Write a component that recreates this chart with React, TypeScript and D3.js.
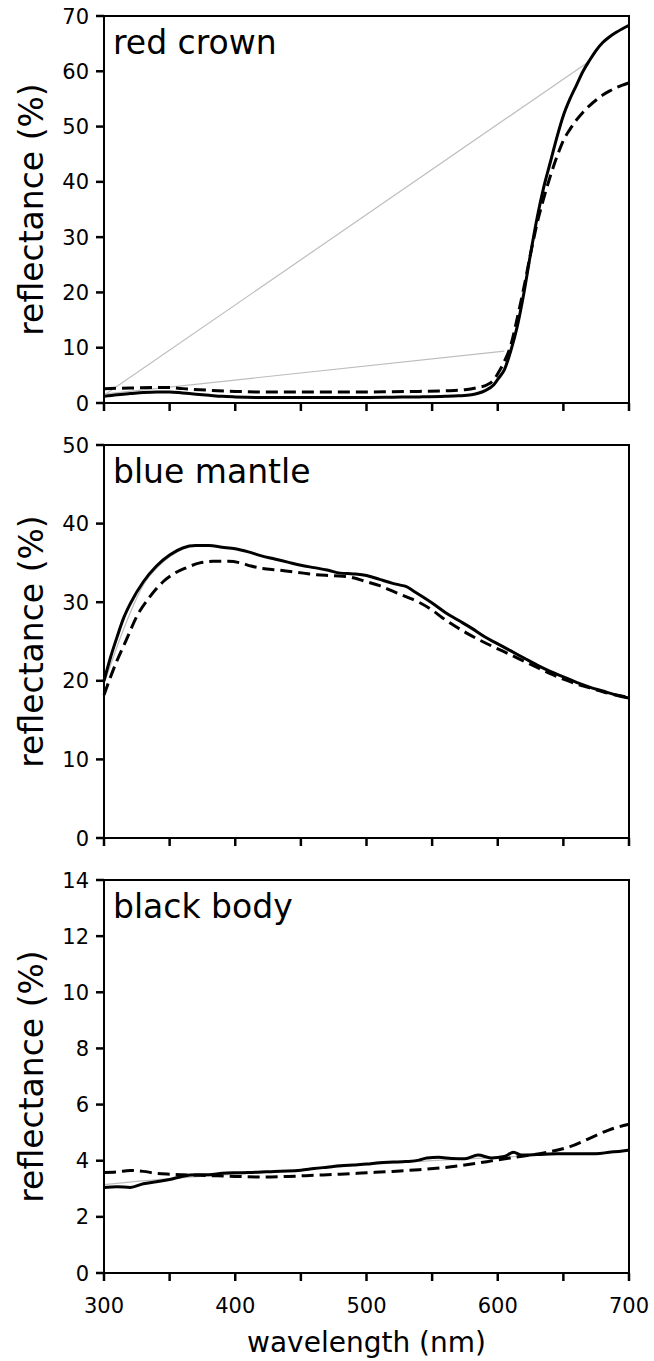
import React from "react";
import * as d3 from "d3";

type Pt = [number, number];

const xTicks = [300, 350, 400, 450, 500, 550, 600, 650, 700];
const xLabels = [300, 400, 500, 600, 700];

const redSolid: Pt[] = [
  [300, 1.2], [310, 1.5], [320, 1.7], [330, 1.9], [340, 2.0], [350, 2.0], [360, 1.8], [370, 1.6],
  [380, 1.4], [390, 1.2], [400, 1.1], [420, 1.0], [440, 1.0], [460, 1.0], [480, 1.0], [500, 1.0],
  [520, 1.05], [540, 1.1], [560, 1.2], [570, 1.3], [580, 1.5], [590, 2.2], [597, 3.3], [601, 4.6],
  [605, 6], [610, 9.5], [615, 14], [620, 20], [625, 27], [630, 33.5], [635, 39], [640, 43.5],
  [645, 48], [650, 52], [655, 55], [660, 57.5], [665, 60], [670, 62], [675, 63.8], [680, 65.2],
  [685, 66.2], [690, 67], [695, 67.7], [700, 68.3],
];
const redDashed: Pt[] = [
  [300, 2.6], [320, 2.7], [340, 2.8], [350, 2.8], [360, 2.6], [380, 2.3], [400, 2.1], [420, 2.0],
  [450, 2.0], [500, 2.0], [520, 2.05], [540, 2.1], [560, 2.2], [575, 2.4], [585, 2.8], [592, 3.3],
  [597, 4.2], [600, 5.3], [605, 7.5], [610, 10.5], [615, 15.5], [620, 21], [625, 27], [630, 32.5],
  [635, 37], [640, 41], [645, 44.5], [650, 47.5], [655, 49.5], [660, 51.2], [665, 52.6], [670, 53.8],
  [675, 54.8], [680, 55.7], [685, 56.4], [690, 57], [695, 57.5], [700, 57.9],
];
const redGrayA: Pt[] = [[300, 1.4], [669, 61.7]];
const redGrayB: Pt[] = [[300, 1.6], [605, 9.4]];

const blueSolid: Pt[] = [
  [300, 20], [305, 23], [310, 25.6], [315, 28], [320, 29.8], [330, 32.6], [340, 34.6], [350, 36],
  [360, 36.9], [370, 37.2], [380, 37.2], [390, 37.0], [400, 36.8], [410, 36.4], [420, 35.9],
  [430, 35.5], [440, 35.1], [450, 34.7], [460, 34.4], [470, 34.1], [480, 33.7], [490, 33.6],
  [500, 33.4], [510, 32.9], [520, 32.4], [525, 32.2], [530, 32.0], [536, 31.4], [550, 29.9],
  [560, 28.7], [570, 27.7], [580, 26.7], [590, 25.6], [600, 24.7], [610, 23.8], [620, 22.9],
  [630, 22.0], [640, 21.2], [650, 20.5], [660, 19.8], [670, 19.2], [680, 18.7], [690, 18.2],
  [700, 17.8],
];
const blueDashed: Pt[] = [
  [300, 18.2], [305, 20.5], [310, 22.6], [317, 25.2], [325, 28.2], [335, 30.7], [345, 32.6],
  [353, 33.6], [363, 34.4], [373, 35.0], [383, 35.2], [395, 35.2], [404, 35.0], [412, 34.6],
  [421, 34.3], [432, 34.1], [442, 33.9], [452, 33.7], [462, 33.5], [472, 33.4], [482, 33.3],
  [490, 33.1], [500, 32.6], [510, 32.1], [520, 31.4], [530, 30.7], [541, 29.9], [550, 29.0],
  [558, 28.0], [567, 27.0], [576, 26.1], [586, 25.2], [597, 24.3], [610, 23.3], [620, 22.5],
  [630, 21.7], [640, 20.9], [650, 20.2], [660, 19.6], [670, 19.1], [680, 18.6], [690, 18.2],
  [700, 17.9],
];
const blueGray: Pt[] = [[300, 19.6], [315, 26.6], [330, 32.2], [345, 35.1], [360, 36.8]];

const blackSolid: Pt[] = [
  [300, 3.05], [310, 3.07], [320, 3.05], [330, 3.18], [340, 3.25], [350, 3.33], [360, 3.45],
  [370, 3.5], [380, 3.5], [390, 3.55], [400, 3.57], [410, 3.58], [420, 3.6], [430, 3.62],
  [440, 3.63], [450, 3.66], [460, 3.72], [470, 3.77], [480, 3.82], [490, 3.85], [500, 3.88],
  [510, 3.93], [520, 3.95], [530, 3.97], [540, 4.02], [546, 4.1], [555, 4.12], [565, 4.08],
  [575, 4.07], [585, 4.2], [595, 4.1], [605, 4.15], [612, 4.3], [618, 4.2], [630, 4.22],
  [645, 4.25], [660, 4.25], [675, 4.25], [685, 4.3], [695, 4.35], [700, 4.38],
];
const blackDashed: Pt[] = [
  [300, 3.58], [310, 3.6], [320, 3.65], [330, 3.62], [340, 3.55], [350, 3.52], [360, 3.5],
  [380, 3.47], [400, 3.44], [420, 3.42], [440, 3.44], [460, 3.48], [480, 3.52], [500, 3.57],
  [520, 3.62], [540, 3.68], [560, 3.76], [580, 3.88], [600, 4.03], [620, 4.17], [640, 4.32],
  [655, 4.5], [670, 4.8], [685, 5.1], [700, 5.3],
];
const blackGray: Pt[] = [
  [300, 3.15], [350, 3.36], [400, 3.52], [450, 3.66], [500, 3.86], [550, 4.0], [600, 4.12],
  [650, 4.23], [700, 4.34],
];

const redTicks = [0, 10, 20, 30, 40, 50, 60, 70];
const blueTicks = [0, 10, 20, 30, 40, 50];
const blackTicks = [0, 2, 4, 6, 8, 10, 12, 14];

const panels = [
  { name: "red crown", top: 16, bottom: 403, max: 70, ticks: redTicks, solid: redSolid, dashed: redDashed, grays: [redGrayA, redGrayB] },
  { name: "blue mantle", top: 445, bottom: 838, max: 50, ticks: blueTicks, solid: blueSolid, dashed: blueDashed, grays: [blueGray] },
  { name: "black body", top: 880, bottom: 1273, max: 14, ticks: blackTicks, solid: blackSolid, dashed: blackDashed, grays: [blackGray] },
];

const LEFT = 104;
const RIGHT = 629;
const FONT = "'DejaVu Sans', Verdana, sans-serif";

export default function App() {
  const x = d3.scaleLinear().domain([300, 700]).range([LEFT, RIGHT]);
  return (
    <svg width={654} height={1361} style={{ position: "absolute", left: 0, top: 0, background: "#fff" }} fontFamily={FONT}>
      <rect x={0} y={0} width={654} height={1361} fill="#fff" />
      {panels.map((p, i) => {
        const y = d3.scaleLinear().domain([0, p.max]).range([p.bottom, p.top]);
        const line = d3.line<Pt>().x((d) => x(d[0])).y((d) => y(d[1])).curve(d3.curveMonotoneX);
        const straight = d3.line<Pt>().x((d) => x(d[0])).y((d) => y(d[1]));
        const mid = (p.top + p.bottom) / 2;
        return (
          <g key={i}>
            {p.grays.map((g, j) => (
              <path key={j} d={(g.length > 2 ? line(g) : straight(g)) || ""} fill="none" stroke="#bdbdbd" strokeWidth={1.2} />
            ))}
            <path d={line(p.solid) || ""} fill="none" stroke="#000" strokeWidth={3} strokeLinejoin="round" />
            <path d={line(p.dashed) || ""} fill="none" stroke="#000" strokeWidth={3} strokeDasharray="12,6" />
            <rect x={LEFT} y={p.top} width={RIGHT - LEFT} height={p.bottom - p.top} fill="none" stroke="#000" strokeWidth={2} />
            {p.ticks.map((t) => (
              <g key={t}>
                <line x1={LEFT - 8} x2={LEFT} y1={y(t)} y2={y(t)} stroke="#000" strokeWidth={2.5} />
                <text x={LEFT - 15} y={y(t)} dy="0.36em" textAnchor="end" fontSize={21} fill="#000">{t}</text>
              </g>
            ))}
            {xTicks.map((t) => (
              <line key={t} x1={x(t)} x2={x(t)} y1={p.bottom} y2={p.bottom + 8} stroke="#000" strokeWidth={2.5} />
            ))}
            <text x={LEFT + 9} y={p.top + 38} fontSize={33} fill="#000">{p.name}</text>
            <text transform={`translate(43,${mid}) rotate(-90)`} textAnchor="middle" fontSize={33} fill="#000">reflectance (%)</text>
          </g>
        );
      })}
      {xLabels.map((t) => (
        <text key={t} x={x(t)} y={1313} textAnchor="middle" fontSize={21} fill="#000">{t}</text>
      ))}
      <text x={(LEFT + RIGHT) / 2} y={1352} textAnchor="middle" fontSize={28} fill="#000">wavelength (nm)</text>
    </svg>
  );
}
